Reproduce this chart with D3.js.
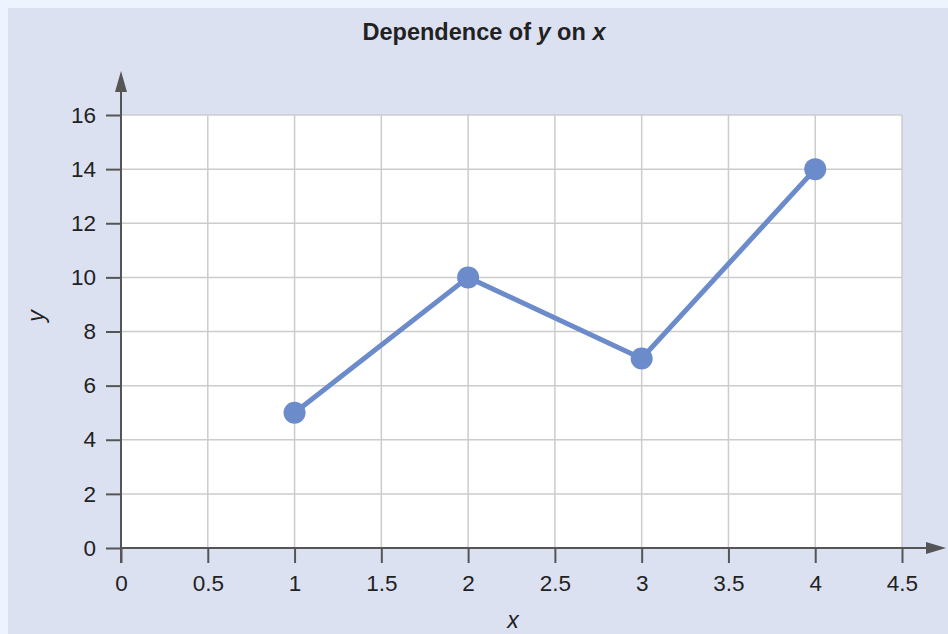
<!DOCTYPE html>
<html><head><meta charset="utf-8">
<script src="https://cdn.jsdelivr.net/npm/d3@7"></script>
<style>
html,body{margin:0;padding:0;background:#eef4fd;}
svg{display:block;font-family:"Liberation Sans",Arial,sans-serif;}
</style></head>
<body>
<svg id="c" width="948" height="634"></svg>
<script>
const xValues = [1, 2, 3, 4];
const yValues = [5, 10, 7, 14];
const xTicks = [0, 0.5, 1, 1.5, 2, 2.5, 3, 3.5, 4, 4.5];
const yTicks = [0, 2, 4, 6, 8, 10, 12, 14, 16];
const titleParts = [["Dependence of ", "normal"], ["y", "italic"], [" on ", "normal"], ["x", "italic"]];

const svg = d3.select("#c");
svg.append("rect").attr("x", 8).attr("y", 8).attr("width", 940).attr("height", 626).attr("fill", "#dce1f1");

const x = d3.scaleLinear().domain([0, 4.5]).range([121, 902]);
const y = d3.scaleLinear().domain([0, 16]).range([548, 115]);

svg.append("rect").attr("x", x(0)).attr("y", y(16)).attr("width", x(4.5) - x(0)).attr("height", y(0) - y(16)).attr("fill", "#fff");

// grid
svg.append("g").selectAll("line").data(xTicks.filter(d => d > 0)).join("line")
  .attr("x1", d => x(d)).attr("x2", d => x(d)).attr("y1", y(0)).attr("y2", y(16))
  .attr("stroke", "#cccccc").attr("stroke-width", 1.5);
svg.append("g").selectAll("line").data(yTicks.filter(d => d > 0)).join("line")
  .attr("x1", x(0)).attr("x2", x(4.5)).attr("y1", d => y(d)).attr("y2", d => y(d))
  .attr("stroke", "#cccccc").attr("stroke-width", 1.5);

const axisColor = "#555";
const fontSz = "22.5px";
// axes
const xAxis = svg.append("g").attr("transform", `translate(0,${y(0)})`)
  .call(d3.axisBottom(x).tickValues(xTicks).tickSize(15).tickPadding(10).tickFormat(d3.format("")));
const yAxis = svg.append("g").attr("transform", `translate(${x(0)},0)`)
  .call(d3.axisLeft(y).tickValues(yTicks).tickSize(15).tickPadding(10).tickFormat(d3.format("")));
[xAxis, yAxis].forEach(a => {
  a.attr("font-size", null).attr("font-family", null);
  a.select(".domain").remove();
  a.selectAll(".tick line").attr("stroke", axisColor).attr("stroke-width", 2);
  a.selectAll(".tick text").attr("fill", "#222").style("font-size", fontSz).style("font-family", "'Liberation Sans',Arial,sans-serif");
});
xAxis.selectAll(".tick text").attr("dy", "0.71em").attr("y", 27);
yAxis.selectAll(".tick text").attr("x", -25);

// axis lines with arrows
svg.append("line").attr("x1", x(0)).attr("x2", 932).attr("y1", y(0)).attr("y2", y(0)).attr("stroke", axisColor).attr("stroke-width", 2);
svg.append("path").attr("d", `M946,${y(0)} L926,${y(0)-6} L926,${y(0)+6} Z`).attr("fill", axisColor);
svg.append("line").attr("x1", x(0)).attr("x2", x(0)).attr("y1", y(0)+15).attr("y2", 85).attr("stroke", axisColor).attr("stroke-width", 2);
svg.append("path").attr("d", `M${x(0)},71 L${x(0)-6},92 L${x(0)+6},92 Z`).attr("fill", axisColor);

// line + points
const data = xValues.map((v, i) => ({x: v, y: yValues[i]}));
const color = "#6b8bcb";
svg.append("path").datum(data)
  .attr("d", d3.line().x(d => x(d.x)).y(d => y(d.y)))
  .attr("fill", "none").attr("stroke", color).attr("stroke-width", 5);
svg.append("g").selectAll("circle").data(data).join("circle")
  .attr("cx", d => x(d.x)).attr("cy", d => y(d.y)).attr("r", 11).attr("fill", color);

// title
const t = svg.append("text").attr("x", 484).attr("y", 40).attr("text-anchor", "middle")
  .style("font-size", "23.5px").style("font-weight", "bold").attr("fill", "#222");
titleParts.forEach(p => t.append("tspan").text(p[0]).style("font-style", p[1]));

// axis labels
svg.append("text").attr("x", 513).attr("y", 628).attr("text-anchor", "middle")
  .style("font-size", "23px").style("font-style", "italic").attr("fill", "#222").text("x");
svg.append("text").attr("transform", "translate(44,316) rotate(-90)").attr("text-anchor", "middle")
  .style("font-size", "23px").style("font-style", "italic").attr("fill", "#222").text("y");
</script>
</body></html>
